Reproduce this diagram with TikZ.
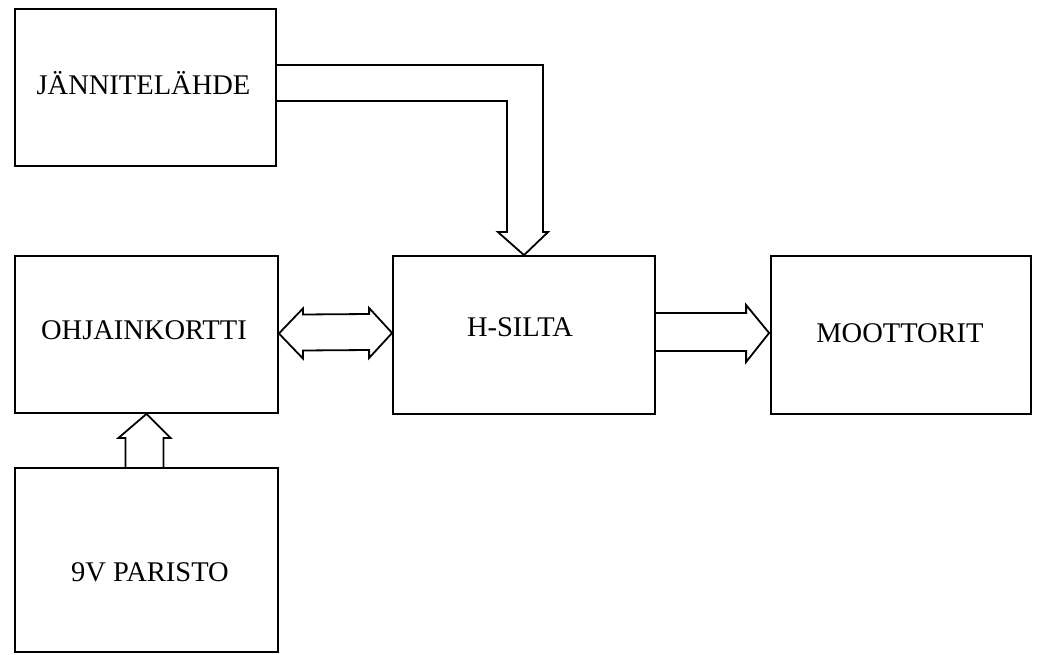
\documentclass[tikz,border=0pt]{standalone}
\usepackage{fontspec}
\setmainfont{Liberation Serif}
\usetikzlibrary{calc}
\begin{document}
\begin{tikzpicture}[x=1pt,y=-1pt,
  box/.style={draw,line width=1.8pt,inner sep=0pt},
  lbl/.style={font=\fontsize{28.5}{30}\selectfont,anchor=base,inner sep=0pt},
  bus/.style={draw,line width=1.8pt,fill=white,line join=miter}]
\useasboundingbox (0,0) rectangle (1037,655);
\node[box,minimum width=261pt,minimum height=157pt] (j) at (145.5,87.5) {};
\node[box,minimum width=263pt,minimum height=157pt] (o) at (146.5,334.5) {};
\node[box,minimum width=262pt,minimum height=158pt] (h) at (524,335) {};
\node[box,minimum width=260pt,minimum height=158pt] (m) at (901,335) {};
\node[box,minimum width=263pt,minimum height=184pt] (p) at (146.5,560) {};
\node[lbl] (jt) at ($(j)+(-2,7)$) {JÄNNITELÄHDE};
\node[lbl] (ot) at ($(o)+(-2.5,5)$) {OHJAINKORTTI};
\node[lbl] (ht) at ($(h)+(-4,1.5)$) {H-SILTA};
\node[lbl] (mt) at ($(m)+(-1,7.5)$) {MOOTTORIT};
\node[lbl] (pt) at ($(p)+(3.5,21.5)$) {9V PARISTO};
% top bus: JÄNNITELÄHDE -> H-SILTA
\coordinate (t) at (h.north);
\coordinate (a1) at ($(j.north east)+(0,57)$);
\coordinate (a2) at ($(j.north east)+(0,93)$);
\coordinate (tr) at ($(t)+(19,-23)$);
\coordinate (tl) at ($(t)+(-17,-23)$);
\draw[bus,fill=none] (a1) -- (a1 -| tr) -- (tr) -- ($(t)+(24,-23)$) -- (t)
  -- ($(t)+(-26,-23)$) -- (tl) -- (tl |- a2) -- (a2);
% double bus: OHJAINKORTTI <-> H-SILTA
\coordinate (l) at ($(o.east)+(0,-1)$);
\coordinate (r) at ($(h.west)+(0,-2)$);
\draw[bus] (l) -- ($(l)+(24,-25)$) -- ($(l)+(24,-19)$) -- ($(r)+(-23,-19)$)
  -- ($(r)+(-23,-25)$) -- (r) -- ($(r)+(-23,25)$) -- ($(r)+(-23,17)$)
  -- ($(l)+(24,17)$) -- ($(l)+(24,25)$) -- cycle;
% bus: H-SILTA -> MOOTTORIT
\coordinate (s) at ($(h.east)+(0,-2)$);
\coordinate (e) at ($(m.west)+(-1,-2)$);
\draw[bus,fill=none] ($(s)+(0,-20)$) -- ($(e)+(-23,-20)$) -- ($(e)+(-23,-28)$) -- (e)
  -- ($(e)+(-23,29)$) -- ($(e)+(-23,18)$) -- ($(s)+(0,18)$);
% bus: 9V PARISTO -> OHJAINKORTTI
\coordinate (u) at (o.south);
\coordinate (b) at (p.north);
\draw[bus,fill=none] ($(b)+(-21,0)$) -- ($(u)+(-21,24)$) -- ($(u)+(-28,24)$) -- (u)
  -- ($(u)+(24,24)$) -- ($(u)+(17,24)$) -- ($(b)+(17,0)$);
\end{tikzpicture}
\end{document}
